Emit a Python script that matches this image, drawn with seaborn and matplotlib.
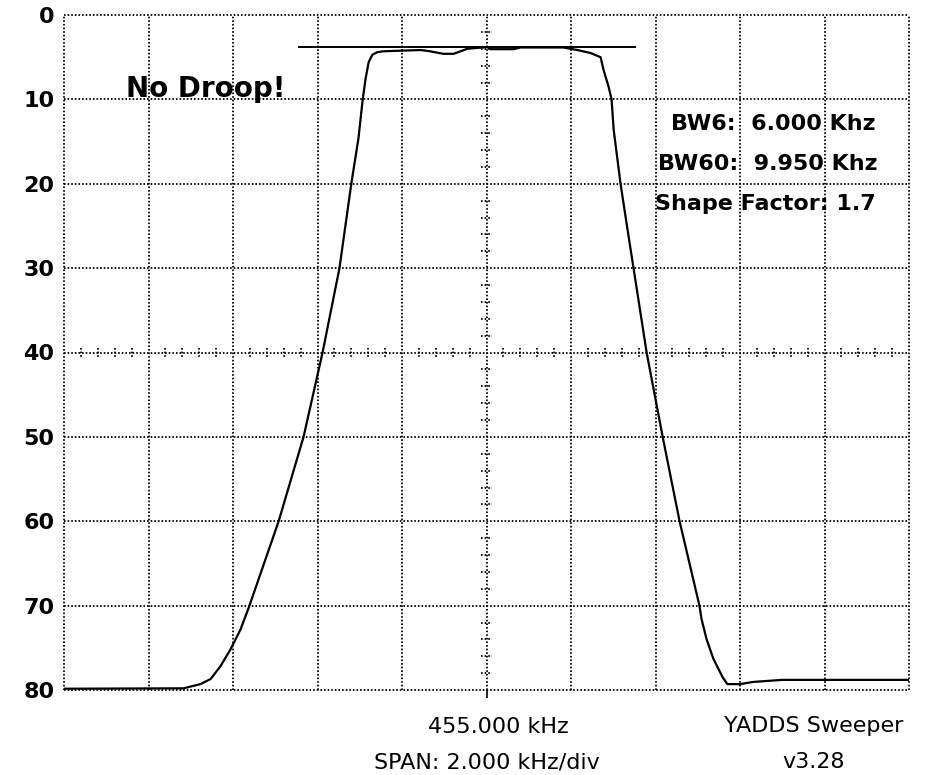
import matplotlib
matplotlib.use("Agg")
import numpy as np
import pandas as pd
import seaborn as sns
import matplotlib.pyplot as plt

# ---- data ----
freq_khz = [445.00, 447.83, 448.23, 448.47, 448.70, 448.94, 449.18, 449.39,
            450.08, 450.67, 451.12, 451.52, 451.80, 451.97, 452.07, 452.14,
            452.21, 452.30, 452.42, 452.56, 453.44, 453.63, 453.98, 454.22,
            454.55, 455.02, 455.09, 455.64, 455.80, 456.82, 457.15, 457.46,
            457.70, 457.77, 457.89, 457.96, 458.01, 458.17, 458.34, 458.48,
            458.79, 459.17, 459.57, 460.04, 460.09, 460.21, 460.37, 460.59,
            460.70, 461.01, 461.30, 462.00, 465.00]
atten_db = [79.85, 79.8, 79.3, 78.7, 77.2, 75.2, 72.8, 70.0,
            60.0, 50.0, 40.0, 30.0, 20.0, 14.6, 10.0, 7.5,
            5.6, 4.7, 4.4, 4.3, 4.15, 4.27, 4.6, 4.6,
            4.0, 3.8, 4.05, 4.05, 3.85, 3.85, 4.15, 4.5,
            5.0, 6.5, 8.5, 10.0, 13.6, 19.9, 25.5, 30.0,
            40.0, 50.0, 60.0, 70.0, 71.6, 74.0, 76.3, 78.5,
            79.3, 79.3, 79.05, 78.8, 78.8]

ref_level_db = 3.75
ref_span_khz = [450.55, 458.53]

y_ticks = [0, 10, 20, 30, 40, 50, 60, 70, 80]
x_grid = [445, 447, 449, 451, 453, 455, 457, 459, 461, 463, 465]
center_khz = 455.0

title_note = "No Droop!"
stats_lines = ["BW6:  6.000 Khz", "BW60:  9.950 Khz", "Shape Factor: 1.7"]
center_label = "455.000 kHz"
span_label = "SPAN: 2.000 kHz/div"
brand_lines = ["YADDS Sweeper", "v3.28"]

# ---- figure ----
sns.set_theme(style="white")
plt.rcParams["font.family"] = ["DejaVu Sans"]
plt.rcParams["text.color"] = "black"
plt.rcParams["xtick.color"] = "black"
plt.rcParams["ytick.color"] = "black"

W, H = 926, 775
fig = plt.figure(figsize=(W / 100, H / 100), dpi=100)
fig.patch.set_facecolor("white")
ax = fig.add_axes([64 / W, 1 - 690 / H, 845 / W, 675 / H])
ax.set_facecolor("white")

df = pd.DataFrame({"freq": freq_khz, "atten": atten_db})
sns.lineplot(data=df, x="freq", y="atten", ax=ax, color="black",
             linewidth=1.6, sort=False, zorder=4)

ax.set_xlim(x_grid[0], x_grid[-1])
ax.set_ylim(y_ticks[-1], y_ticks[0])
for s in ax.spines.values():
    s.set_visible(False)

dot = dict(color="black", linewidth=1.3, linestyle=(0, (0.9, 1.1)), zorder=1,
           clip_on=False)
for xv in x_grid:
    ax.axvline(xv, **dot)
for yv in y_ticks:
    ax.axhline(yv, **dot)

# minor graticule marks on the centre line and the 40 dB line
minor_y = [v for v in np.arange(0, 80.01, 2) if v % 10 != 0]
ax.hlines(minor_y, center_khz - 0.13, center_khz + 0.13, **dot)
minor_x = [x_grid[0] + 0.4 * i for i in range(51)]
minor_x = [v for v in minor_x if abs((v - x_grid[0]) / 2 - round((v - x_grid[0]) / 2)) > 1e-6]
ax.vlines(minor_x, 40 - 0.55, 40 + 0.55, **dot)

# reference level line
ax.hlines(ref_level_db, ref_span_khz[0], ref_span_khz[1], color="black",
          linewidth=1.4, zorder=3)

# ticks
ax.set_xticks([center_khz])
ax.set_xticklabels([""])
ax.tick_params(axis="x", bottom=True, length=6, width=1.2, color="black",
               direction="out")
ax.set_yticks(y_ticks)
ax.set_yticklabels([str(v) for v in y_ticks], fontsize=16, fontweight="bold",
                   color="black")
ax.tick_params(axis="y", left=False, length=0, pad=7)
ax.set_xlabel("")
ax.set_ylabel("")

# annotations
ax.text(446.46, 9.7, title_note, fontsize=20, fontweight="bold",
        ha="left", va="baseline", zorder=5, color="black")
stat_x = [461.79, 461.67, 461.60]
stat_y = [13.6, 18.4, 23.1]
for t, xx, yy in zip(stats_lines, stat_x, stat_y):
    ax.text(xx, yy, t, fontsize=16, fontweight="bold", ha="center",
            va="baseline", zorder=5, color="black")

fig.text(498 / W, 1 - 733 / H, center_label, fontsize=16, ha="center",
         va="baseline", color="black")
fig.text(487 / W, 1 - 768 / H, span_label, fontsize=16, ha="center",
         va="baseline", color="black")
fig.text(814 / W, 1 - 732 / H, brand_lines[0], fontsize=16, ha="center",
         va="baseline", color="black")
fig.text(814 / W, 1 - 768 / H, brand_lines[1], fontsize=16, ha="center",
         va="baseline", color="black")

fig.savefig("out.png", dpi=100, facecolor="white")
